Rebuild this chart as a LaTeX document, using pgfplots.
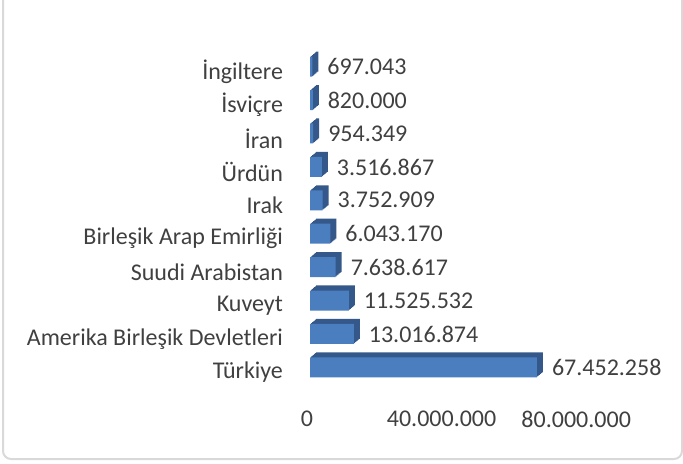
\documentclass[border=0pt]{standalone}
\usepackage{fontspec}
\setmainfont{Carlito}
\usepackage{pgfplots}
\usepackage{pgfplotstable}
\pgfplotsset{compat=1.18}
\definecolor{barfront}{RGB}{74,126,191}
\definecolor{barback}{RGB}{52,88,138}
\definecolor{txt}{RGB}{64,64,64}
\definecolor{framec}{RGB}{217,217,217}
\pgfplotstableread{
idx value label
0 67452258 67.452.258
1 13016874 13.016.874
2 11525532 11.525.532
3 7638617 7.638.617
4 6043170 6.043.170
5 3752909 3.752.909
6 3516867 3.516.867
7 954349 954.349
8 820000 820.000
9 697043 697.043
}\data
\begin{document}
\begin{tikzpicture}[font=\fontsize{12}{14.4}\selectfont]
\useasboundingbox (0,0) rectangle (341.5pt,231.5pt);
\draw[framec, line width=1pt, rounded corners=4pt] (1.5pt,2pt) rectangle (341pt,260pt);
\begin{axis}[
  at={(155pt,39.5pt)}, anchor=south west,
  scale only axis, width=134.6pt, height=167pt,
  xmin=0, xmax=80000000, ymin=-0.5, ymax=9.5,
  axis line style={draw=none}, major tick length=0pt,
  ytick={0,...,9},
  yticklabels={Türkiye,Amerika Birleşik Devletleri,Kuveyt,Suudi Arabistan,Birleşik Arap Emirliği,Irak,Ürdün,İran,İsviçre,İngiltere},
  xtick={0,40000000,80000000},
  xticklabels={0,40.000.000,80.000.000},
  scaled x ticks=false,
  tick label style={text=txt, font=\fontsize{12}{14.4}\selectfont},
  yticklabel style={xshift=-10pt, yshift=-2.5pt},
  xticklabel style={yshift=-10pt, xshift=-1.5pt},
  clip=false,
]
\pgfplotsinvokeforeach{6,5,4,3,2,1}{
\addplot[xbar, bar shift=0pt, bar width=10pt, fill=barback, draw=none, xshift=#1*0.5pt, yshift=#1*0.42pt]
  table[x=value, y=idx]{\data};
}
\addplot[xbar, bar shift=0pt, bar width=10pt, fill=barfront, draw=none,
  nodes near coords, point meta=explicit symbolic,
  nodes near coords style={anchor=west, xshift=4pt, text=txt, font=\fontsize{12}{14.4}\selectfont}]
  table[x=value, y=idx, meta=label]{\data};
\end{axis}
\end{tikzpicture}
\end{document}
